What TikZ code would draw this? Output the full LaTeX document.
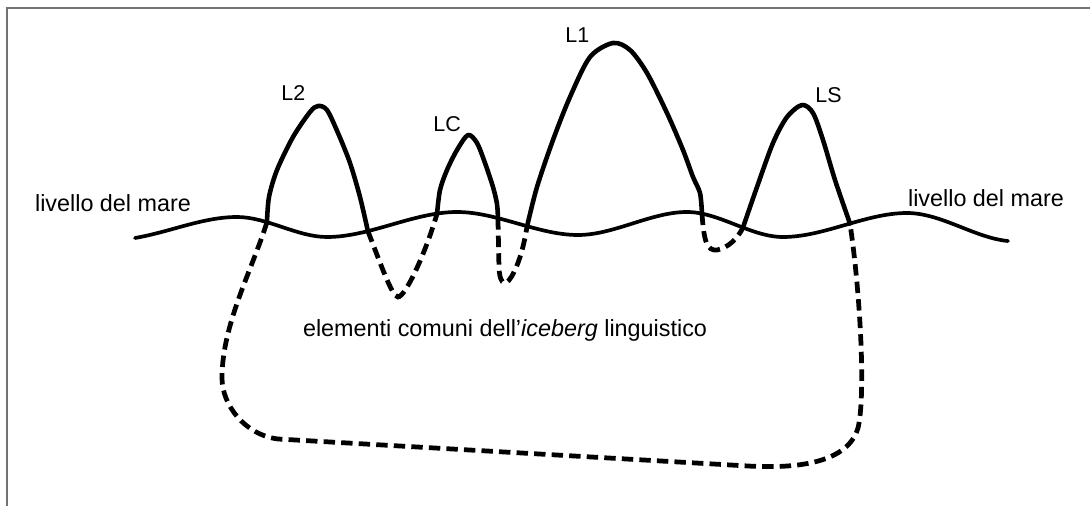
\documentclass[tikz,border=0pt]{standalone}
\usepackage{fontspec}
\setmainfont{Liberation Sans}
\usepackage{tikz}

\begin{document}
\begin{tikzpicture}[
  x=0.02cm, y=-0.02cm,
  berg/.style={line width=2.6pt, line join=round, line cap=round},
  sea/.style={line width=2.1pt, line cap=round},
  hidden/.style={line width=2.7pt, dash pattern=on 6.5pt off 3.5pt},
  tag/.style={font=\fontsize{12.2}{14}\selectfont, inner sep=0pt, anchor=base west},
  caption/.style={font=\fontsize{13.3}{16}\selectfont, inner sep=0pt, anchor=base}
]

  \useasboundingbox (0,0) rectangle (1090,506);
  \draw[black!55, line width=1.1pt] (7,506) -- (7,8) -- (1090,8);

  % sea level, with the points where the peaks leave the water
  \draw[sea] (135,238) .. controls (170,232) and (203,217) .. (237,217)
    .. controls (267,217) and (297,237) .. coordinate[pos=0.333] (b1) (327,237)
    .. controls (370,237) and (414,212) .. coordinate[pos=0.315] (b2)
                                         coordinate[pos=0.846] (b3) (457,212)
    .. controls (497,212) and (538,235) .. coordinate[pos=0.339] (b4)
                                         coordinate[pos=0.579] (b5) (578,235)
    .. controls (614,235) and (651,212) .. (687,212)
    .. controls (719,212) and (751,237) .. coordinate[pos=0.156] (b6)
                                         coordinate[pos=0.583] (b7) (783,237)
    .. controls (824,237) and (866,213) .. coordinate[pos=0.54] (b8) (907,213)
    .. controls (941,213) and (975,238) .. (1008,241);

  % peaks above the water
  \draw[berg] plot[smooth] coordinates {(b1) (269,197) (277,170) (293,137)
    (310,112) (318,106) (327,110) (338,133) (350,163) (360,197) (b2)};
  \draw[berg] plot[smooth] coordinates {(b3) (440,190) (447,170) (457,150)
    (468,135) (477,143) (485,163) (493,187) (497,204) (b4)};
  \draw[berg] plot[smooth] coordinates {(b5) (537,187) (553,140) (570,97)
    (590,57) (613,43) (630,50) (647,73) (667,113) (683,150) (693,177)
    (700,193) (b6)};
  \draw[berg] plot[smooth] coordinates {(b7) (757,187) (773,143) (787,117)
    (802,105) (813,113) (823,140) (835,180) (b8)};

  % the part under the water
  \draw[hidden] (b1) .. controls (252,270) and (222,325) .. (222,378)
    .. controls (222,405) and (245,435) .. (278,439) -- (748,466)
    .. controls (800,469) and (848,462) .. (858,428)
    .. controls (866,395) and (860,290) .. (b8);
  \draw[hidden] (b2) .. controls (380,262) and (392,297) .. (398,297)
    .. controls (405,297) and (425,255) .. (b3);
  \draw[hidden] (b4) -- (499,268) .. controls (500,287) and (507,287) .. (514,272)
    .. controls (520,260) and (524,245) .. (b5);
  \draw[hidden] (b6) .. controls (704,242) and (707,251) .. (717,250)
    .. controls (728,248) and (738,238) .. (b7);

  \node[tag] (l2) at (281,101) {L2};
  \node[tag] (lc) at (433,132) {LC};
  \node[tag] (l1) at (565,43)  {L1};
  \node[tag] (ls) at (815,103) {LS};

  \node[caption] (seaW)   at (113,212) {livello del mare};
  \node[caption] (seaE)   at (986,207) {livello del mare};
  \node[caption] (common) at (505,337) {elementi comuni dell’\textit{iceberg} linguistico};

\end{tikzpicture}
\end{document}
